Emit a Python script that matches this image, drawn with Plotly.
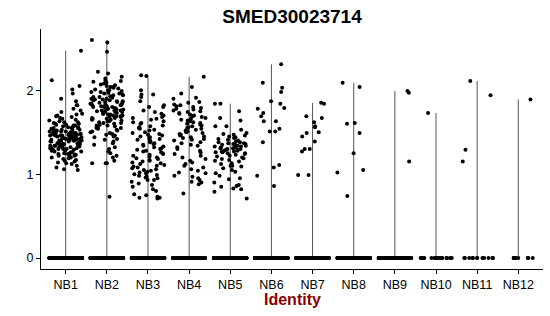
import math
import plotly.graph_objects as go

categories = ["NB1", "NB2", "NB3", "NB4", "NB5", "NB6", "NB7", "NB8", "NB9", "NB10", "NB11", "NB12"]

nb1 = [2.47, 2.12, 2.05, 2.01, 1.96, 1.90, 1.87, 1.82, 1.82, 1.78,
       1.76, 1.74, 1.72, 1.71, 1.70, 1.69, 1.68, 1.67, 1.66, 1.65,
       1.64, 1.63, 1.62, 1.62, 1.61, 1.60, 1.60, 1.59, 1.59, 1.58,
       1.58, 1.57, 1.57, 1.56, 1.56, 1.55, 1.55, 1.55, 1.54, 1.54,
       1.53, 1.53, 1.53, 1.52, 1.52, 1.52, 1.51, 1.51, 1.51, 1.50,
       1.50, 1.50, 1.50, 1.49, 1.49, 1.49, 1.49, 1.48, 1.48, 1.48,
       1.48, 1.47, 1.47, 1.47, 1.47, 1.46, 1.46, 1.46, 1.46, 1.45,
       1.45, 1.45, 1.45, 1.44, 1.44, 1.44, 1.44, 1.43, 1.43, 1.43,
       1.43, 1.42, 1.42, 1.42, 1.42, 1.41, 1.41, 1.41, 1.40, 1.40,
       1.40, 1.40, 1.39, 1.39, 1.39, 1.38, 1.38, 1.38, 1.37, 1.37,
       1.37, 1.36, 1.36, 1.36, 1.35, 1.35, 1.35, 1.34, 1.34, 1.34,
       1.33, 1.33, 1.32, 1.32, 1.32, 1.31, 1.31, 1.30, 1.30, 1.30,
       1.29, 1.29, 1.28, 1.28, 1.27, 1.27, 1.26, 1.26, 1.25, 1.25,
       1.24, 1.24, 1.23, 1.23, 1.22, 1.22, 1.21, 1.20, 1.20, 1.19,
       1.18, 1.17, 1.16, 1.15, 1.14, 1.13, 1.12, 1.10, 1.08, 1.06, 1.05]
nb2 = [2.60, 2.57, 2.46, 2.22, 2.20, 2.16, 2.14, 2.12, 2.11, 2.10,
       2.09, 2.08, 2.07, 2.06, 2.05, 2.04, 2.04, 2.03, 2.02, 2.01,
       2.00, 2.00, 1.99, 1.98, 1.98, 1.97, 1.96, 1.96, 1.95, 1.94,
       1.94, 1.93, 1.92, 1.92, 1.91, 1.90, 1.90, 1.89, 1.89, 1.88,
       1.88, 1.87, 1.87, 1.86, 1.86, 1.85, 1.85, 1.84, 1.84, 1.83,
       1.83, 1.82, 1.82, 1.81, 1.81, 1.80, 1.80, 1.80, 1.79, 1.79,
       1.78, 1.78, 1.78, 1.77, 1.77, 1.76, 1.76, 1.76, 1.75, 1.75,
       1.74, 1.74, 1.74, 1.73, 1.73, 1.72, 1.72, 1.71, 1.71, 1.70,
       1.70, 1.69, 1.69, 1.68, 1.68, 1.67, 1.67, 1.66, 1.66, 1.65,
       1.65, 1.64, 1.63, 1.63, 1.62, 1.61, 1.61, 1.60, 1.59, 1.58,
       1.58, 1.57, 1.56, 1.55, 1.55, 1.54, 1.53, 1.52, 1.51, 1.50,
       1.49, 1.48, 1.47, 1.46, 1.45, 1.44, 1.42, 1.41, 1.39, 1.37,
       1.35, 1.32, 1.30, 1.27, 1.25, 1.22, 1.20, 1.16, 1.13, 1.13, 1.13, 0.73]
nb3 = [2.18, 2.17, 2.00, 1.95, 1.95, 1.92, 1.87, 1.82, 1.80, 1.80,
       1.76, 1.74, 1.72, 1.70, 1.68, 1.67, 1.66, 1.65, 1.63, 1.62,
       1.61, 1.60, 1.58, 1.57, 1.56, 1.55, 1.54, 1.53, 1.52, 1.50,
       1.49, 1.48, 1.47, 1.46, 1.45, 1.44, 1.43, 1.42, 1.41, 1.40,
       1.39, 1.38, 1.37, 1.36, 1.35, 1.34, 1.33, 1.32, 1.31, 1.30,
       1.29, 1.28, 1.27, 1.26, 1.25, 1.24, 1.23, 1.22, 1.21, 1.20,
       1.19, 1.18, 1.17, 1.16, 1.15, 1.14, 1.13, 1.12, 1.11, 1.10,
       1.09, 1.08, 1.07, 1.06, 1.05, 1.04, 1.03, 1.02, 1.01, 1.00,
       0.99, 0.98, 0.97, 0.96, 0.95, 0.93, 0.93, 0.91, 0.89, 0.87,
       0.85, 0.82, 0.80, 0.76, 0.75, 0.73, 0.72, 0.72, 0.71]
nb4 = [2.16, 2.04, 1.96, 1.91, 1.90, 1.86, 1.85, 1.83, 1.82, 1.81,
       1.80, 1.79, 1.78, 1.77, 1.76, 1.75, 1.74, 1.73, 1.72, 1.71,
       1.70, 1.69, 1.68, 1.67, 1.66, 1.65, 1.64, 1.63, 1.62, 1.61,
       1.60, 1.59, 1.58, 1.57, 1.56, 1.55, 1.54, 1.53, 1.52, 1.51,
       1.50, 1.49, 1.48, 1.47, 1.46, 1.45, 1.44, 1.43, 1.42, 1.41,
       1.40, 1.38, 1.37, 1.35, 1.34, 1.32, 1.30, 1.28, 1.26, 1.24,
       1.22, 1.20, 1.18, 1.16, 1.14, 1.12, 1.10, 1.08, 1.06, 1.04,
       1.02, 1.01, 0.98, 0.97, 0.95, 0.93, 0.91, 0.90, 0.88, 0.77]
nb5 = [1.84, 1.84, 1.75, 1.67, 1.64, 1.57, 1.57, 1.53, 1.49, 1.48,
       1.47, 1.46, 1.45, 1.44, 1.43, 1.42, 1.41, 1.40, 1.39, 1.38,
       1.38, 1.37, 1.37, 1.36, 1.36, 1.35, 1.35, 1.34, 1.34, 1.33,
       1.33, 1.32, 1.32, 1.31, 1.31, 1.30, 1.30, 1.29, 1.29, 1.28,
       1.28, 1.27, 1.27, 1.26, 1.26, 1.25, 1.25, 1.24, 1.23, 1.22,
       1.21, 1.20, 1.19, 1.18, 1.17, 1.16, 1.15, 1.13, 1.12, 1.10,
       1.10, 1.09, 1.07, 1.05, 1.03, 1.01, 0.98, 0.95, 0.94, 0.90,
       0.87, 0.86, 0.85, 0.83, 0.82, 0.79, 0.71]
nb6 = [2.31, 2.09, 2.03, 1.98, 1.87, 1.84, 1.79, 1.78, 1.73, 1.69,
       1.63, 1.63, 1.54, 1.51, 1.51, 1.38, 1.11, 1.08, 0.98, 0.86]
nb7 = [1.85, 1.84, 1.69, 1.67, 1.62, 1.57, 1.56, 1.50, 1.49, 1.45,
       1.39, 1.30, 1.30, 1.27, 0.99, 0.99]
nb8 = [2.09, 2.04, 1.61, 1.60, 1.49, 1.25, 1.05, 1.02, 0.74]
nb9 = [1.99, 1.97, 1.15]
nb10 = [1.73]
nb11 = [2.11, 1.94, 1.29, 1.15]
nb12 = [1.89]

expressed = [nb1, nb2, nb3, nb4, nb5, nb6, nb7, nb8, nb9, nb10, nb11, nb12]
zero_counts = [500, 450, 400, 400, 350, 300, 300, 250, 150, 20, 12, 10]

y_ticks = [0, 1, 2]


def jitter_frac(k, g):
    # deterministic hash-style jitter in [0, 1) for horizontal spreading only
    v = math.sin(k * 12.9898 + g * 78.233 + 0.5) * 43758.5453
    return v - math.floor(v)


fig = go.Figure()

# violin outlines (degenerate: thin vertical lines spanning each group's data)
for i, (name, vals) in enumerate(zip(categories, expressed)):
    allv = vals + [0.0] * zero_counts[i]
    fig.add_trace(go.Scatter(
        x=[i + 1, i + 1], y=[min(allv), max(allv)], mode="lines",
        line=dict(color="#555555", width=1), hoverinfo="skip", showlegend=False))

# jittered points
for i, (name, vals) in enumerate(zip(categories, expressed)):
    allv = vals + [0.0] * zero_counts[i]
    xs = [i + 1 + (jitter_frac(k, i) - 0.5) * 0.8 for k in range(len(allv))]
    fig.add_trace(go.Scatter(
        x=xs, y=allv, mode="markers",
        marker=dict(color="black", size=4, line=dict(width=0)),
        name=name, showlegend=False))

fig.update_layout(
    width=550, height=316,
    margin=dict(l=41, r=7, t=29, b=47),
    paper_bgcolor="white", plot_bgcolor="white",
    font=dict(family="Liberation Sans, Arial, sans-serif", size=12, color="black"),
    title=dict(text="<b>SMED30023714</b>", x=292 / 550, xanchor="center",
               y=1 - 16 / 316, yanchor="middle", yref="container",
               font=dict(size=19, color="black")),
    showlegend=False,
)
fig.update_xaxes(
    range=[0.4, 12.6], tickvals=list(range(1, len(categories) + 1)), ticktext=categories,
    showgrid=False, zeroline=False, showline=True, linecolor="black", linewidth=1.2,
    ticks="outside", ticklen=4, tickwidth=1, tickcolor="black",
    tickfont=dict(size=12.5, color="black"),
)
fig.update_yaxes(
    range=[-0.13, 2.73], tickvals=y_ticks, ticktext=[str(t) for t in y_ticks],
    showgrid=False, zeroline=False, showline=True, linecolor="black", linewidth=1.2,
    ticks="outside", ticklen=4, tickwidth=1, tickcolor="black",
    tickfont=dict(size=12.5, color="black"),
)
fig.add_annotation(
    text="<b>Identity</b>", xref="paper", yref="paper", x=0.5, y=(269 - 299) / 240,
    xanchor="center", yanchor="middle", showarrow=False,
    font=dict(size=16, color="#8B0000"))

fig.write_html("out.html")
